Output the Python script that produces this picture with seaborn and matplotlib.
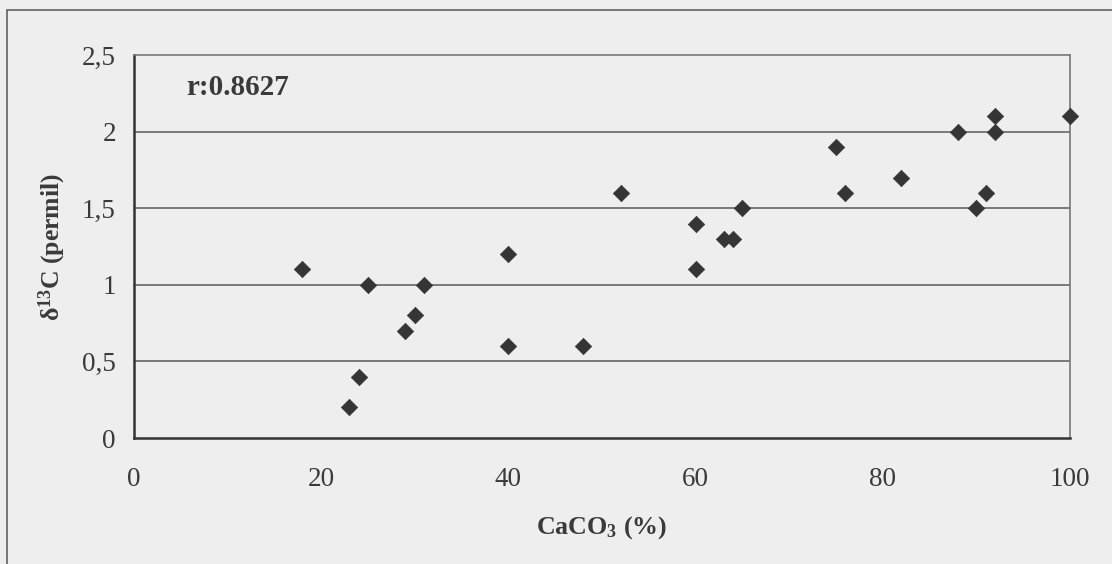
import numpy as np
import pandas as pd
import matplotlib
matplotlib.use("Agg")
import matplotlib.pyplot as plt
from matplotlib.patches import Rectangle
import seaborn as sns

# dados
caco3 = [18, 25, 31, 40, 24, 23, 29, 30, 40, 48,
         52, 60, 60, 65, 63, 64, 75, 76, 82, 88,
         92, 92, 91, 90, 100]
d13c = [1.1, 1.0, 1.0, 1.2, 0.4, 0.2, 0.7, 0.8, 0.6, 0.6,
        1.6, 1.4, 1.1, 1.5, 1.3, 1.3, 1.9, 1.6, 1.7, 2.0,
        2.1, 2.0, 1.6, 1.5, 2.1]
x_ticks = [0, 20, 40, 60, 80, 100]
y_ticks = [0, 0.5, 1, 1.5, 2, 2.5]
y_labels = ['0', '0,5', '1', '1,5', '2', '2,5']
r_text = 'r:0.8627'

df = pd.DataFrame({'caco3': caco3, 'd13c': d13c})

sns.set_style('white')
plt.rcParams['font.family'] = ['Liberation Serif', 'DejaVu Serif']
plt.rcParams['mathtext.fontset'] = 'custom'
plt.rcParams['mathtext.bf'] = 'Liberation Serif:bold'
plt.rcParams['mathtext.rm'] = 'Liberation Serif'

bg = '#eeeeee'
txt = '#3a3a3a'

fig = plt.figure(figsize=(11.12, 5.64), dpi=100, facecolor=bg)
ax = fig.add_axes([0.1205, 0.2234, 0.8417, 0.6791])
ax.set_facecolor(bg)

#moldura externa
fig.patches.append(Rectangle((7/1112, -0.1), 1.2, 1 - 10/564 + 0.1,
                             transform=fig.transFigure, fill=False,
                             edgecolor='#555555', lw=1.1))

#grade horizontal
for yv in y_ticks[1:-1]:
    ax.axhline(yv, color='#5a5a5a', lw=1.1, zorder=1)

sns.scatterplot(data=df, x='caco3', y='d13c', marker='D', s=70,
                color='#353535', edgecolor='#353535', linewidth=0.5,
                ax=ax, zorder=3, clip_on=False)

ax.set_xlim(0, 100)
ax.set_ylim(0, 2.5)
ax.set_xticks(x_ticks)
ax.set_yticks(y_ticks)
ax.set_yticklabels(y_labels)
ax.tick_params(axis='both', direction='out', length=7, width=1.2,
               color='#444444', labelsize=19.5, labelcolor=txt)
ax.tick_params(axis='x', pad=14)
ax.tick_params(axis='y', pad=6)

for s in ['left', 'bottom']:
    ax.spines[s].set_color('#333333')
    ax.spines[s].set_linewidth(1.8)
for s in ['top', 'right']:
    ax.spines[s].set_color('#777777')
    ax.spines[s].set_linewidth(1.2)

ax.set_xlabel(r'$\mathbf{CaCO_3}$ $\mathbf{(\%)}$', fontsize=18.7,
              color=txt, labelpad=16)
ax.set_ylabel(r'$\mathbf{\delta^{13}C}$ (permil)', fontsize=18.5,
              fontweight='bold', color=txt, labelpad=10)

ax.text(0.0556, 0.915, r_text, transform=ax.transAxes, fontsize=21,
        fontweight='bold', color=txt, va='center', ha='left')

plt.savefig('out.png', dpi=100, facecolor=bg)
